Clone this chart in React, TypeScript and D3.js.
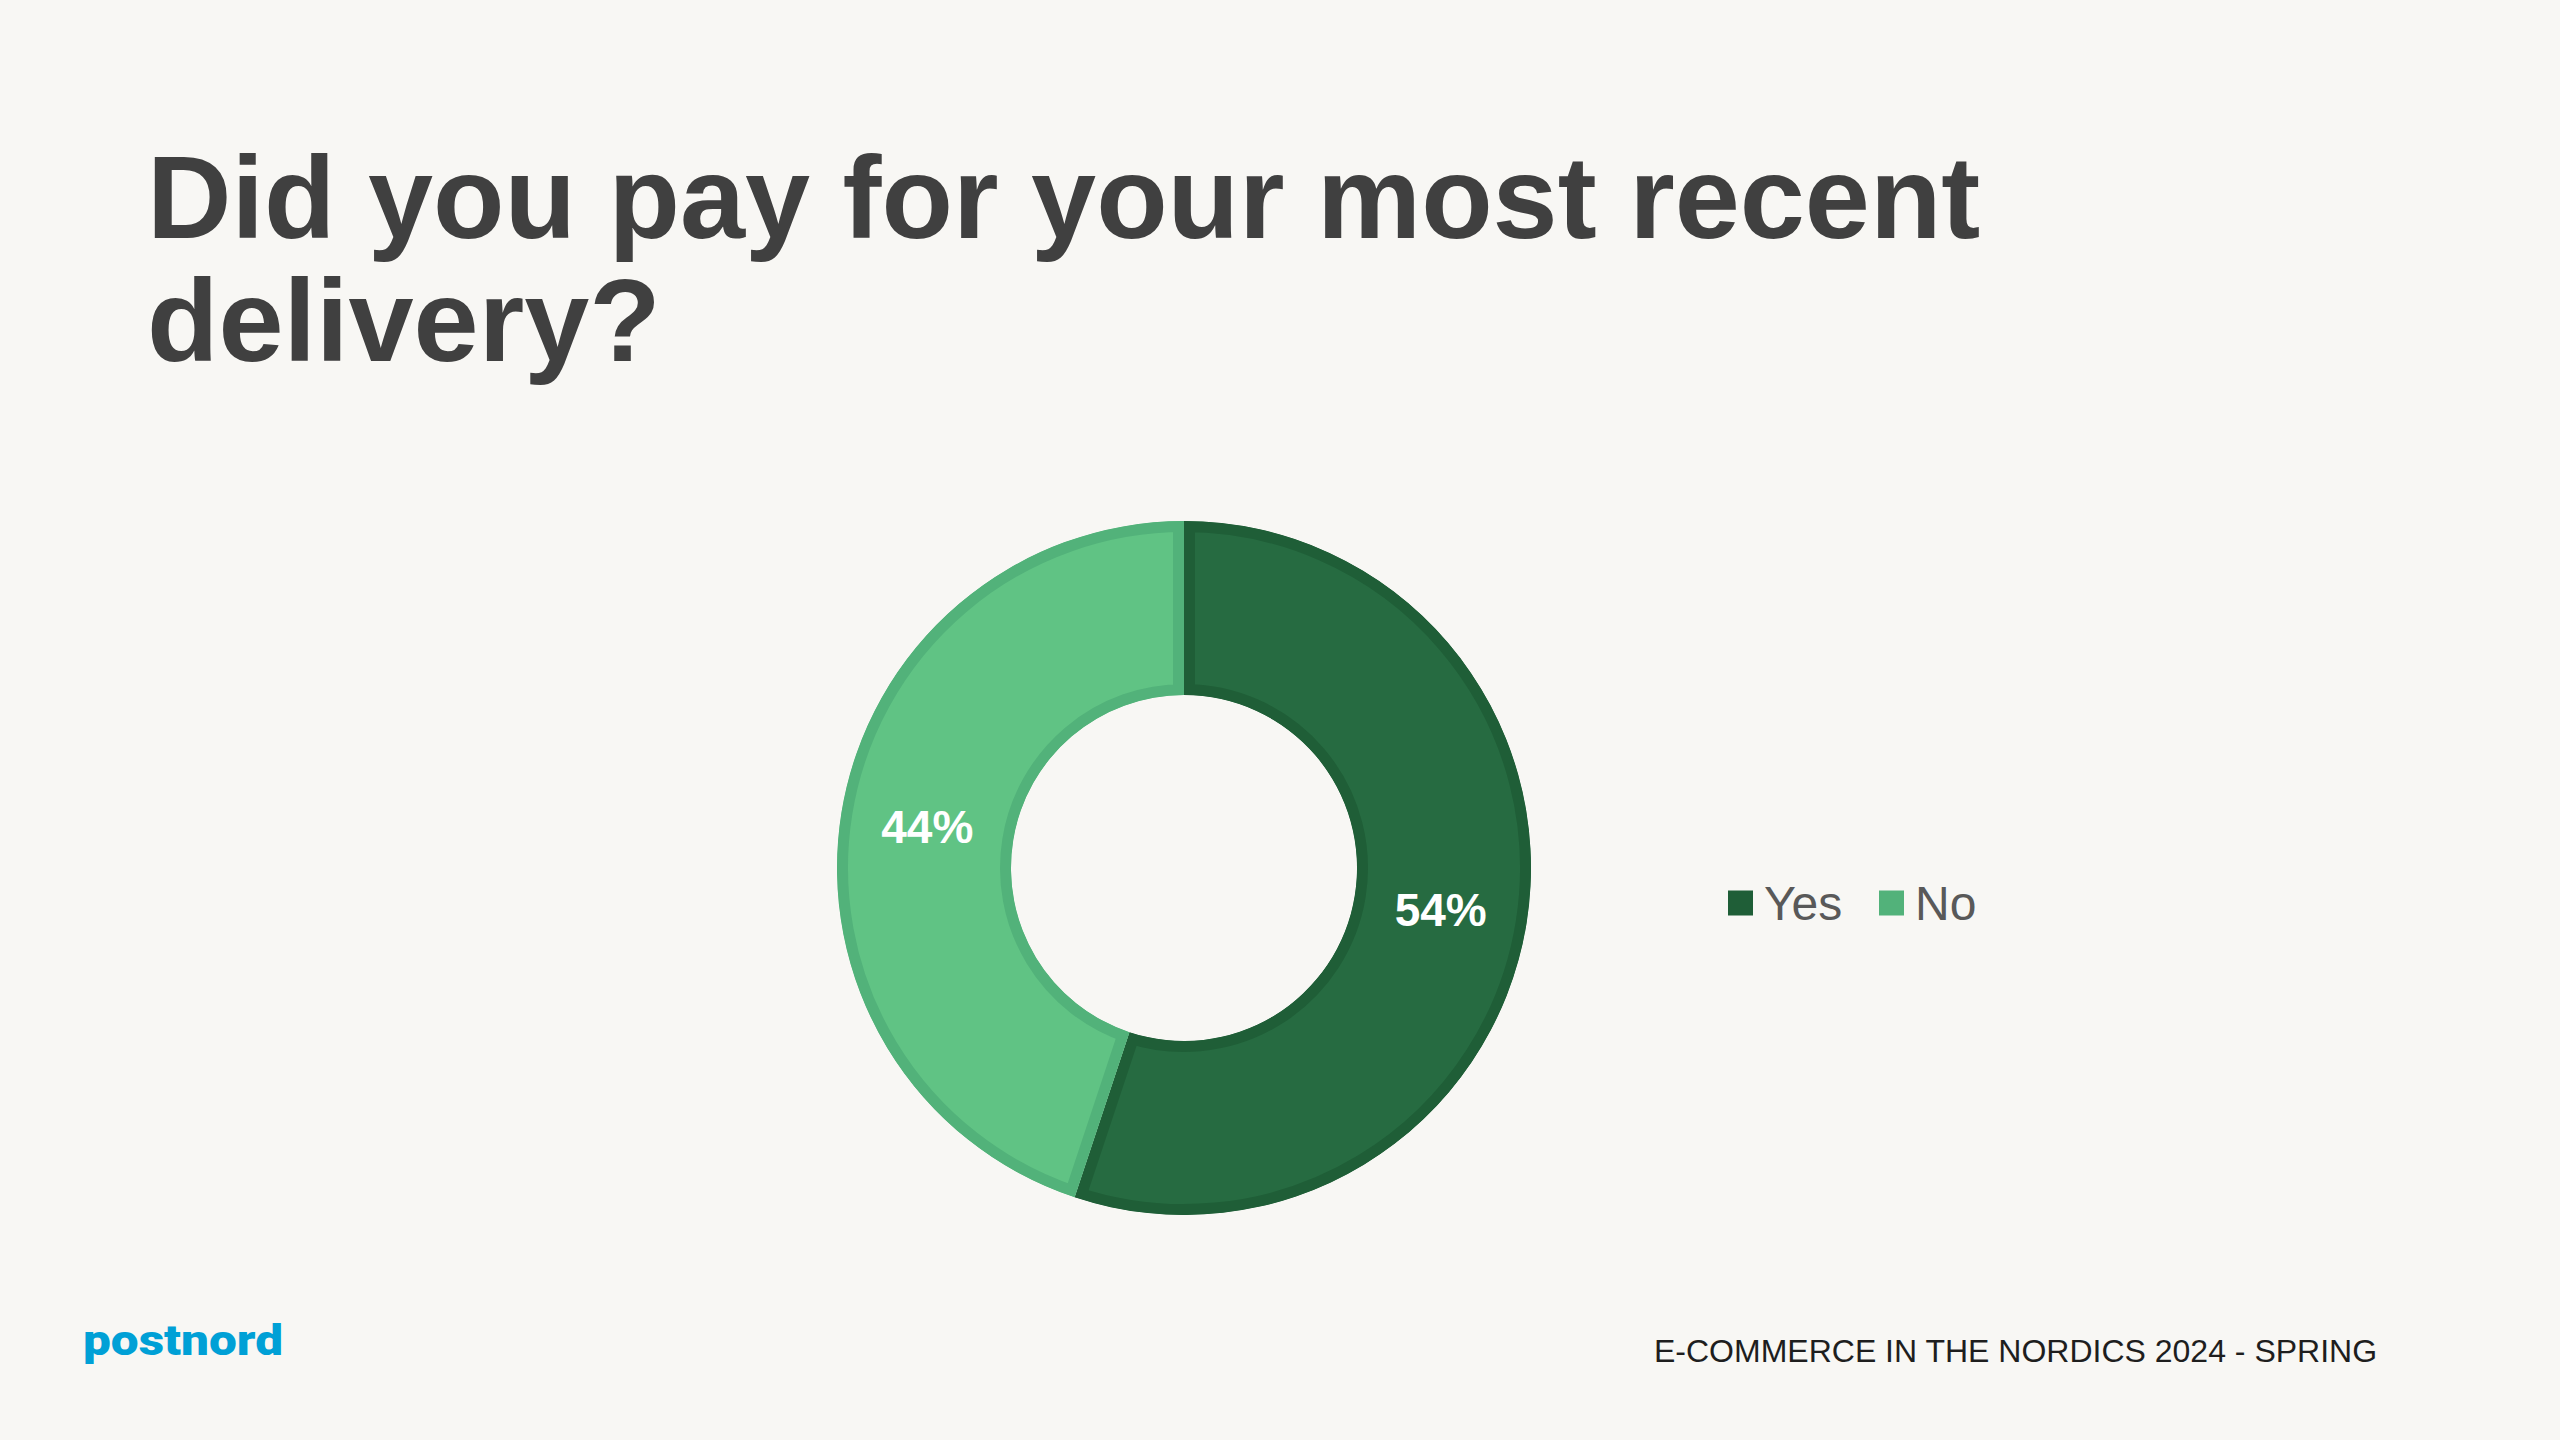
import React, { useEffect } from "react";
import * as d3 from "d3";

const title = ["Did you pay for your most recent", "delivery?"];
const categories = ["Yes", "No"];
const values = [54, 44];
const labels = ["54%", "44%"];
const fills = ["#266B41", "#60C384"];
const strokes = ["#1F5E37", "#52B27A"];
const footer = "E-COMMERCE IN THE NORDICS 2024 - SPRING";
const brand = "postnord";

const W = 2560;
const H = 1440;
const cx = 1184;
const cy = 868;
const rOuter = 347;
const rInner = 173;

export default function App() {
  useEffect(() => {
    document.body.style.margin = "0";
    document.body.style.background = "#F8F7F4";
  }, []);

  const pie = d3
    .pie<number>()
    .sort(null)
    .startAngle(0)
    .endAngle(2 * Math.PI)
    .value((d) => d);
  const arcs = pie(values);
  const arc = d3.arc<d3.PieArcDatum<number>>().innerRadius(rInner).outerRadius(rOuter);
  const labelArc = d3
    .arc<d3.PieArcDatum<number>>()
    .innerRadius((rInner + rOuter) / 2)
    .outerRadius((rInner + rOuter) / 2);

  const legendX = 1728;
  const legendY = 903;
  const legendOffsets = [0, 151];

  return (
    <svg width={W} height={H} viewBox={`0 0 ${W} ${H}`} style={{ display: "block" }}>
      <rect x={0} y={0} width={W} height={H} fill="#F8F7F4" />
      <g fontFamily="'Liberation Sans', Arial, sans-serif" fontWeight="bold" fill="#404040" fontSize={117}>
        {title.map((t, i) => (
          <text key={i} x={147} y={238 + i * 123}>
            {t}
          </text>
        ))}
      </g>
      <defs>
        {arcs.map((a, i) => (
          <clipPath key={i} id={`clip${i}`}>
            <path d={arc(a) || ""} />
          </clipPath>
        ))}
      </defs>
      <g transform={`translate(${cx},${cy})`}>
        {arcs.map((a, i) => (
          <path
            key={i}
            d={arc(a) || ""}
            fill={fills[i]}
            stroke={strokes[i]}
            strokeWidth={22}
            clipPath={`url(#clip${i})`}
          />
        ))}
      </g>
      <g fontFamily="'Liberation Sans', Arial, sans-serif" fontWeight="bold" fill="#FFFFFF" fontSize={46} textAnchor="middle">
        {arcs.map((a, i) => {
          const [lx, ly] = labelArc.centroid(a);
          return (
            <text key={i} x={cx + lx} y={cy + ly} dy="0.35em">
              {labels[i]}
            </text>
          );
        })}
      </g>
      <g fontFamily="'Liberation Sans', Arial, sans-serif" fontSize={48} fill="#595959">
        {categories.map((c, i) => (
          <g key={c} transform={`translate(${legendX + legendOffsets[i]},${legendY})`}>
            <rect x={0} y={-12.5} width={25} height={25} fill={strokes[i]} />
            <text x={36} y={0} dy="0.35em">
              {c}
            </text>
          </g>
        ))}
      </g>
      <text
        x={1654}
        y={1362}
        fontFamily="'Liberation Sans', Arial, sans-serif"
        fontSize={32}
        fill="#1E1E1E"
      >
        {footer}
      </text>
      <text
        x={83}
        y={1355}
        fontFamily="Roboto, 'Noto Sans', sans-serif"
        fontWeight={900}
        fontSize={42}
        fill="#00A0D6"
        textLength={200}
        lengthAdjust="spacingAndGlyphs"
      >
        {brand}
      </text>
    </svg>
  );
}
